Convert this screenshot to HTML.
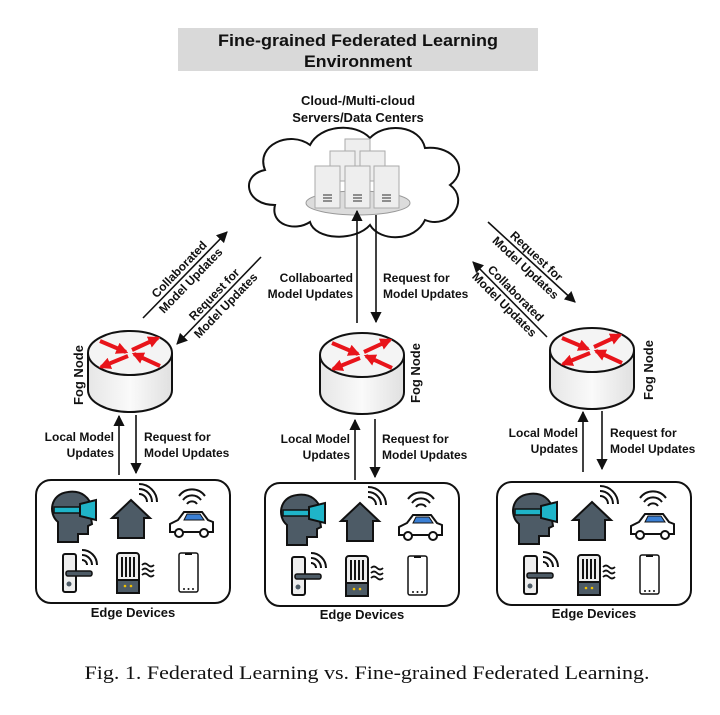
<!DOCTYPE html>
<html><head><meta charset="utf-8"><style>
html,body{margin:0;padding:0;background:#fff}
svg{display:block}
text{font-family:"Liberation Sans",sans-serif;font-weight:bold;fill:#111}
</style></head><body>
<svg width="720" height="715" viewBox="0 0 720 715" xmlns="http://www.w3.org/2000/svg">
<defs>
<marker id="ah" viewBox="0 0 10 10" refX="9" refY="5" markerWidth="7" markerHeight="7" orient="auto-start-reverse"><path d="M0,0 L10,5 L0,10 Z" fill="#111"/></marker>
<marker id="rh" viewBox="0 0 10 10" refX="8" refY="5" markerWidth="12" markerHeight="12" markerUnits="userSpaceOnUse" orient="auto"><path d="M0,0 L10,5 L0,10 Z" fill="#e8141a"/></marker>
<linearGradient id="cyl" x1="0" x2="1"><stop offset="0" stop-color="#e6e6e6"/><stop offset="0.5" stop-color="#fafafa"/><stop offset="1" stop-color="#e0e0e0"/></linearGradient>
<g id="fog">
<path d="M-42,0 L-42,37 A42,22 0 0 0 42,37 L42,0" fill="url(#cyl)" stroke="#111" stroke-width="2"/>
<ellipse cx="0" cy="0" rx="42" ry="22" fill="#f4f4f4" stroke="#111" stroke-width="2"/>
<g stroke="#e8141a" stroke-width="4" fill="none">
<line x1="-30" y1="-12" x2="-4" y2="-1" marker-end="url(#rh)"/>
<line x1="2" y1="-3" x2="28" y2="-15" marker-end="url(#rh)"/>
<line x1="-2" y1="3" x2="-29" y2="14" marker-end="url(#rh)"/>
<line x1="30" y1="13" x2="4" y2="1" marker-end="url(#rh)"/>
</g>
</g>
<g id="edge">
<rect x="0" y="0" width="194" height="123" rx="15" fill="#fff" stroke="#111" stroke-width="2"/>
<path d="M22,56 L22,42 C12,34 14,14 32,12 C46,10 54,18 56,28 L58,36 L55,38 L56,44 L52,46 L52,54 L42,54 L42,62 L22,62 Z" fill="#4d5b66" stroke="#111" stroke-width="2"/>
<rect x="18" y="27" width="26" height="6" fill="#1fb4c8" stroke="#111" stroke-width="1.5"/>
<path d="M44,24 L60,20 L60,40 L44,36 Z" fill="#1fb4c8" stroke="#111" stroke-width="2"/>
<path d="M76,38 L95,20 L114,38 L108,38 L108,58 L82,58 L82,38 Z" fill="#4d5b66" stroke="#111" stroke-width="2"/>
<path d="M103,14 A8,8 0 0 1 111,22 M103,9 A13,13 0 0 1 116,22 M103,4 A18,18 0 0 1 121,22" fill="none" stroke="#111" stroke-width="2"/>
<path d="M134,52 L134,44 L142,40 L148,32 L166,32 L172,40 L177,42 L177,52 Z" fill="#fff" stroke="#111" stroke-width="2"/>
<path d="M148,40 L151,34 L164,34 L168,40 Z" fill="#3a7fd4" stroke="#111" stroke-width="1"/>
<circle cx="143" cy="53" r="4" fill="#fff" stroke="#111" stroke-width="2"/><circle cx="168" cy="53" r="4" fill="#fff" stroke="#111" stroke-width="2"/>
<path d="M151,24 A6,6 0 0 1 161,24 M147,20 A11,11 0 0 1 165,20 M143,16 A16,16 0 0 1 169,16" fill="none" stroke="#111" stroke-width="2"/>
<rect x="27" y="74" width="13" height="38" rx="2" fill="#eee" stroke="#111" stroke-width="2"/>
<rect x="30" y="91" width="26" height="5" rx="2" fill="#4d5b66" stroke="#111" stroke-width="1.5"/>
<circle cx="33" cy="104" r="2.5" fill="#4d5b66"/>
<path d="M46,80 A5,5 0 0 1 51,85 M46,75 A10,10 0 0 1 56,85 M46,70 A15,15 0 0 1 61,85" fill="none" stroke="#111" stroke-width="2"/>
<rect x="81" y="73" width="22" height="40" rx="3" fill="#eee" stroke="#111" stroke-width="2"/>
<path d="M86,77 V97 M90,77 V97 M94,77 V97 M98,77 V97" stroke="#111" stroke-width="2"/>
<rect x="81" y="100" width="22" height="13" fill="#4d5b66" stroke="#111" stroke-width="2"/>
<circle cx="89" cy="106" r="1.3" fill="#f2c200"/><circle cx="95" cy="106" r="1.3" fill="#f2c200"/>
<path d="M106,85 q3,-3 6,0 q3,3 6,0 M106,90 q3,-3 6,0 q3,3 6,0 M106,95 q3,-3 6,0 q3,3 6,0" fill="none" stroke="#111" stroke-width="1.8"/>
<rect x="143" y="73" width="19" height="39" rx="2" fill="#fff" stroke="#111" stroke-width="1.5"/>
<rect x="149" y="73" width="7" height="2" fill="#111"/>
<circle cx="148" cy="109" r="1" fill="#111"/><circle cx="152.5" cy="109" r="1" fill="#111"/><circle cx="157" cy="109" r="1" fill="#111"/>
</g>
</defs>

<rect x="178" y="28" width="360" height="43" fill="#d9d9d9"/>
<text x="358" y="46" font-size="17" text-anchor="middle" textLength="280" lengthAdjust="spacingAndGlyphs">Fine-grained Federated Learning</text>
<text x="358" y="67" font-size="17" text-anchor="middle" textLength="108" lengthAdjust="spacingAndGlyphs">Environment</text>

<text x="358" y="105" font-size="13" text-anchor="middle">Cloud-/Multi-cloud</text>
<text x="358" y="122" font-size="13" text-anchor="middle">Servers/Data Centers</text>

<path d="M275,205 C245,205 240,175 265,170 C255,145 290,130 310,145 C320,125 355,122 370,138 C385,122 420,125 425,148 C455,145 470,170 450,185 C470,200 450,230 425,220 C415,242 380,242 370,225 C355,242 315,240 310,222 C295,232 270,225 275,205 Z" fill="#fff" stroke="#111" stroke-width="2"/>
<ellipse cx="358" cy="203" rx="52" ry="12" fill="#dcdcdc" stroke="#999" stroke-width="1"/>
<g fill="#eeeeee" stroke="#aaa" stroke-width="1">
<rect x="345" y="139" width="25" height="30"/>
<rect x="330" y="151" width="25" height="30"/><rect x="360" y="151" width="25" height="30"/>
<rect x="315" y="166" width="25" height="42"/><rect x="345" y="166" width="25" height="42"/><rect x="374" y="166" width="25" height="42"/>
</g>
<g stroke="#555" stroke-width="1.3">
<path d="M323,195h9M323,198h9M323,201h9M353,195h9M353,198h9M353,201h9M382,195h9M382,198h9M382,201h9"/>
</g>

<use href="#fog" x="130" y="353"/>
<use href="#fog" x="362" y="355"/>
<use href="#fog" x="592" y="350"/>
<text font-size="13" transform="translate(83,405) rotate(-90)">Fog Node</text>
<text font-size="13" transform="translate(420,403) rotate(-90)">Fog Node</text>
<text font-size="13" transform="translate(653,400) rotate(-90)">Fog Node</text>

<g stroke="#111" stroke-width="1.6" fill="none">
<line x1="143" y1="318" x2="227" y2="232" marker-end="url(#ah)"/>
<line x1="261" y1="257" x2="177" y2="344" marker-end="url(#ah)"/>
<line x1="357" y1="323" x2="357" y2="211" marker-end="url(#ah)"/>
<line x1="376" y1="215" x2="376" y2="322" marker-end="url(#ah)"/>
<line x1="488" y1="222" x2="575" y2="302" marker-end="url(#ah)"/>
<line x1="547" y1="337" x2="473" y2="262" marker-end="url(#ah)"/>
<line x1="119" y1="475" x2="119" y2="416" marker-end="url(#ah)"/>
<line x1="136" y1="415" x2="136" y2="473" marker-end="url(#ah)"/>
<line x1="355" y1="480" x2="355" y2="420" marker-end="url(#ah)"/>
<line x1="375" y1="419" x2="375" y2="477" marker-end="url(#ah)"/>
<line x1="583" y1="472" x2="583" y2="412" marker-end="url(#ah)"/>
<line x1="602" y1="411" x2="602" y2="469" marker-end="url(#ah)"/>
</g>

<g font-size="12">
<g transform="translate(185,275) rotate(-46)"><text x="0" y="-4" text-anchor="middle">Collaborated</text><text x="0" y="12" text-anchor="middle">Model Updates</text></g>
<g transform="translate(220,300) rotate(-46)"><text x="0" y="-4" text-anchor="middle">Request for</text><text x="0" y="12" text-anchor="middle">Model Updates</text></g>
<g transform="translate(531,262) rotate(43)"><text x="0" y="-4" text-anchor="middle">Request for</text><text x="0" y="12" text-anchor="middle">Model Updates</text></g>
<g transform="translate(510,299) rotate(45)"><text x="0" y="-4" text-anchor="middle">Collaborated</text><text x="0" y="12" text-anchor="middle">Model Updates</text></g>

<text x="353" y="282" text-anchor="end">Collaboarted</text>
<text x="353" y="298" text-anchor="end">Model Updates</text>
<text x="383" y="282">Request for</text>
<text x="383" y="298">Model Updates</text>

<text x="114" y="441" text-anchor="end">Local Model</text>
<text x="114" y="457" text-anchor="end">Updates</text>
<text x="144" y="441">Request for</text>
<text x="144" y="457">Model Updates</text>

<text x="350" y="443" text-anchor="end">Local Model</text>
<text x="350" y="459" text-anchor="end">Updates</text>
<text x="382" y="443">Request for</text>
<text x="382" y="459">Model Updates</text>

<text x="578" y="437" text-anchor="end">Local Model</text>
<text x="578" y="453" text-anchor="end">Updates</text>
<text x="610" y="437">Request for</text>
<text x="610" y="453">Model Updates</text>
</g>

<use href="#edge" x="36" y="480"/>
<use href="#edge" x="265" y="483"/>
<use href="#edge" x="497" y="482"/>
<text x="133" y="617" font-size="13" text-anchor="middle">Edge Devices</text>
<text x="362" y="619" font-size="13" text-anchor="middle">Edge Devices</text>
<text x="594" y="618" font-size="13" text-anchor="middle">Edge Devices</text>

<text x="367" y="679" font-size="19" text-anchor="middle" style="font-family:'Liberation Serif',serif;font-weight:normal" textLength="565" lengthAdjust="spacingAndGlyphs">Fig. 1.  Federated Learning vs. Fine-grained Federated Learning.</text>
</svg>
</body></html>
